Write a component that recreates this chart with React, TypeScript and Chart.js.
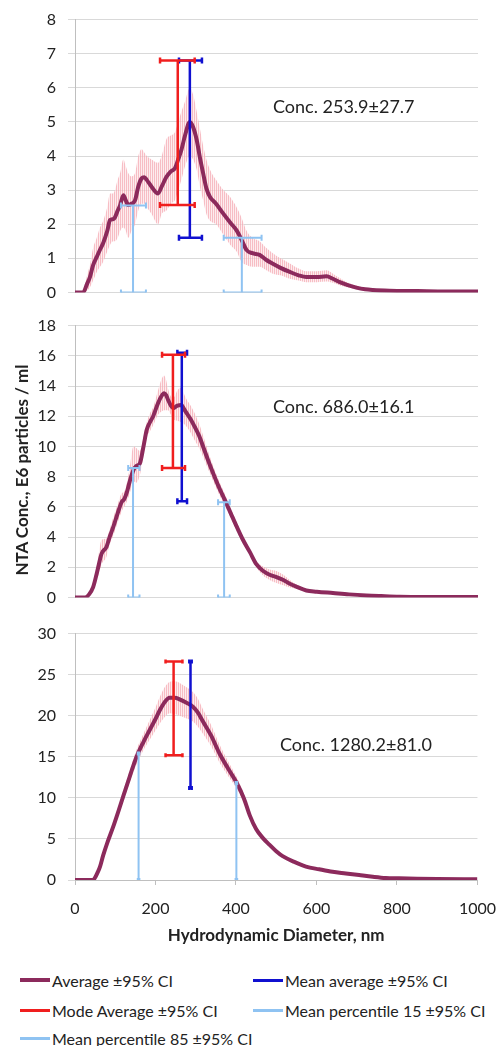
import React, { useEffect, useRef } from "react";
import { Chart, registerables } from "chart.js";
Chart.register(...registerables);

const FONT = "Lato, 'Open Sans', sans-serif";
const MAROON = "#8c2a5c";
const RED = "#f01e1e";
const BLUE = "#1010d0";
const LIGHTBLUE = "#8fc3f2";

// ---------- Panel 1 ----------
const diam1 = [0, 20, 30, 37, 45, 54, 62, 70, 80, 87, 95, 99, 106, 112, 120, 126, 132, 140, 149, 157, 165, 172, 178, 190, 206, 215, 227, 238, 248, 256, 264, 273, 285, 293, 302, 310, 318, 326, 335, 350, 368, 385, 401, 413, 426, 440, 458, 475, 491, 510, 533, 555, 574, 600, 624, 640, 657, 675, 698, 720, 739, 780, 850, 920, 1000];
const avg1 = [0, 0, 0.25, 0.45, 0.8, 1.04, 1.25, 1.45, 1.8, 2.12, 2.15, 2.2, 2.4, 2.56, 2.85, 2.7, 2.56, 2.6, 2.7, 3.1, 3.34, 3.38, 3.3, 3.1, 2.9, 3.1, 3.39, 3.55, 3.64, 3.9, 4.18, 4.6, 5.0, 4.85, 4.47, 3.95, 3.49, 3.05, 2.8, 2.6, 2.31, 2.05, 1.82, 1.55, 1.24, 1.15, 1.1, 0.95, 0.84, 0.72, 0.6, 0.5, 0.45, 0.45, 0.47, 0.4, 0.3, 0.22, 0.14, 0.09, 0.07, 0.05, 0.04, 0.03, 0.03];
const ciHigh1 = [0, 0.02, 0.5, 0.8, 1.3, 1.6, 1.9, 2.1, 2.5, 2.9, 2.9, 3.0, 3.3, 3.5, 3.9, 3.7, 3.5, 3.4, 3.5, 4.0, 4.2, 4.1, 4.0, 3.9, 3.8, 4.0, 4.5, 4.6, 4.7, 5.0, 5.3, 5.6, 6.0, 5.8, 5.3, 4.8, 4.3, 3.9, 3.6, 3.3, 3.0, 2.8, 2.5, 2.2, 1.8, 1.6, 1.5, 1.3, 1.15, 1.0, 0.85, 0.7, 0.62, 0.62, 0.65, 0.55, 0.42, 0.3, 0.2, 0.13, 0.1, 0.07, 0.05, 0.04, 0.04];
const ciLow1 = [0, 0, 0.05, 0.15, 0.35, 0.6, 0.75, 0.9, 1.2, 1.4, 1.5, 1.5, 1.6, 1.8, 1.9, 1.8, 1.6, 1.8, 2.0, 2.4, 2.6, 2.6, 2.5, 2.3, 2.0, 2.3, 2.4, 2.6, 2.7, 3.0, 3.3, 3.7, 4.0, 3.9, 3.6, 3.1, 2.7, 2.3, 2.1, 2.0, 1.7, 1.4, 1.2, 0.9, 0.8, 0.75, 0.75, 0.65, 0.55, 0.5, 0.4, 0.35, 0.3, 0.3, 0.32, 0.28, 0.2, 0.15, 0.09, 0.06, 0.05, 0.03, 0.03, 0.02, 0.02];

// ---------- Panel 2 ----------
const diam2 = [0, 25, 35, 45, 55, 66, 78, 86, 95, 105, 116, 122, 128, 136, 145, 152, 161, 170, 178, 186, 194, 206, 214, 221, 226, 231, 238, 244, 254, 264, 270, 277, 287, 297, 308, 318, 330, 343, 357, 372, 386, 401, 417, 434, 450, 467, 483, 500, 517, 533, 550, 574, 600, 640, 680, 723, 760, 805, 900, 1000];
const avg2 = [0, 0, 0.2, 0.68, 1.7, 2.9, 3.34, 4.0, 4.67, 5.5, 6.33, 6.5, 6.9, 7.7, 8.43, 8.7, 8.88, 10.0, 11.1, 11.6, 12.0, 12.86, 13.3, 13.52, 13.4, 13.08, 12.7, 12.53, 12.7, 12.75, 12.5, 12.2, 11.8, 11.3, 10.7, 9.98, 9.1, 8.2, 7.3, 6.44, 5.6, 4.7, 3.8, 3.0, 2.2, 1.75, 1.5, 1.35, 1.15, 0.9, 0.7, 0.46, 0.38, 0.29, 0.2, 0.13, 0.09, 0.05, 0.03, 0.02];
const ciHigh2 = [0, 0, 0.4, 1.0, 2.2, 3.8, 3.9, 4.5, 5.3, 6.1, 6.9, 7.0, 7.5, 8.6, 10.0, 9.9, 9.7, 10.6, 11.6, 12.2, 12.6, 13.7, 14.4, 14.7, 14.4, 13.8, 13.3, 13.2, 13.7, 13.9, 13.5, 13.1, 12.7, 12.2, 11.5, 10.7, 9.7, 8.7, 7.75, 6.85, 5.9, 5.0, 4.05, 3.2, 2.4, 2.05, 1.85, 1.75, 1.5, 1.15, 0.85, 0.56, 0.46, 0.35, 0.25, 0.16, 0.11, 0.07, 0.04, 0.03];
const ciLow2 = [0, 0, 0.1, 0.4, 1.2, 2.2, 2.7, 3.5, 4.1, 4.9, 5.7, 6.0, 6.3, 6.9, 7.7, 7.6, 8.1, 9.4, 10.6, 11.0, 11.4, 12.1, 12.3, 12.4, 12.4, 12.4, 12.1, 11.8, 11.7, 11.6, 11.5, 11.3, 10.9, 10.4, 9.9, 9.3, 8.5, 7.7, 6.85, 6.05, 5.3, 4.4, 3.55, 2.8, 2.0, 1.45, 1.15, 0.95, 0.8, 0.65, 0.55, 0.36, 0.3, 0.23, 0.15, 0.1, 0.07, 0.03, 0.02, 0.01];

// ---------- Panel 3 ----------
const diam3 = [0, 45, 50, 56, 62, 70, 80, 95, 108, 120, 136, 153, 170, 186, 200, 211, 222, 235, 248, 260, 276, 293, 305, 318, 338, 359, 380, 401, 420, 434, 450, 467, 483, 500, 516, 545, 574, 607, 640, 673, 706, 740, 772, 805, 850, 900, 1000];
const avg3 = [0, 0, 0.3, 0.9, 1.6, 3.0, 4.5, 6.5, 8.4, 10.2, 12.6, 15.0, 16.8, 18.3, 19.6, 20.7, 21.6, 22.2, 22.2, 22.0, 21.6, 21.1, 20.4, 19.3, 17.6, 15.4, 13.6, 11.9, 9.9, 7.9, 6.2, 5.1, 4.3, 3.5, 2.9, 2.2, 1.63, 1.3, 1.0, 0.8, 0.6, 0.4, 0.25, 0.2, 0.15, 0.12, 0.1];
const ciHigh3 = [0, 0, 0.4, 1.1, 1.8, 3.2, 4.7, 6.9, 8.9, 10.8, 13.3, 15.9, 17.8, 19.5, 21.0, 22.3, 23.4, 24.1, 24.2, 24.0, 23.5, 22.9, 22.1, 20.8, 18.9, 16.5, 14.5, 12.6, 10.4, 8.2, 6.35, 5.25, 4.45, 3.6, 3.0, 2.3, 1.7, 1.36, 1.05, 0.84, 0.63, 0.42, 0.27, 0.22, 0.16, 0.13, 0.11];
const ciLow3 = [0, 0, 0.2, 0.7, 1.4, 2.8, 4.3, 6.1, 7.9, 9.6, 11.9, 14.1, 15.8, 17.1, 18.2, 19.1, 19.8, 20.3, 20.2, 20.0, 19.7, 19.3, 18.7, 17.8, 16.3, 14.3, 12.7, 11.2, 9.4, 7.6, 6.05, 4.95, 4.15, 3.4, 2.8, 2.1, 1.56, 1.24, 0.95, 0.76, 0.57, 0.38, 0.23, 0.18, 0.14, 0.11, 0.09];

// ---------- error bars, one entry per panel ----------
const modeX = [255, 243, 245];
const modeXLo = [211, 216, 225];
const modeXHi = [297, 273, 267];
const modeYLo = [2.56, 8.57, 15.2];
const modeYHi = [6.8, 16.07, 26.6];

const meanX = [285, 265, 287];
const meanXLo = [258, 254, 284];
const meanXHi = [315, 278, 290];
const meanYLo = [1.6, 6.37, 11.2];
const meanYHi = [6.8, 16.2, 26.6];

const p15X = [144, 144, 158];
const p15XLo = [114, 132, 156];
const p15XHi = [176, 160, 160];
const p15YHi = [2.55, 8.57, 15.4];

const p85X = [414, 370, 401];
const p85XLo = [369, 355, 399];
const p85XHi = [463, 384, 403];
const p85YHi = [1.6, 6.3, 11.8];

const yMaxes = [8, 18, 30];
const ySteps = [1, 2, 5];
const concLabels = ["Conc. 253.9±27.7", "Conc. 686.0±16.1", "Conc. 1280.2±81.0"];

const xTitle = "Hydrodynamic Diameter, nm";
const yTitle = "NTA Conc., E6 particles / ml";
const legendLabels = [
  "Average ±95% CI",
  "Mean average ±95% CI",
  "Mode Average ±95% CI",
  "Mean percentile 15 ±95% CI",
  "Mean percentile 85 ±95% CI",
];
const legendColors = [MAROON, BLUE, RED, LIGHTBLUE, LIGHTBLUE];
const legendWidths = [4, 3, 3, 3, 3];

const diams = [diam1, diam2, diam3];
const avgs = [avg1, avg2, avg3];
const highs = [ciHigh1, ciHigh2, ciHigh3];
const lows = [ciLow1, ciLow2, ciLow3];

function stripePattern(): CanvasPattern | string {
  const c = document.createElement("canvas");
  c.width = 2;
  c.height = 4;
  const g = c.getContext("2d");
  if (!g) return "rgba(240,150,160,0.5)";
  g.fillStyle = "rgba(252,225,228,0.6)";
  g.fillRect(0, 0, 2, 4);
  g.fillStyle = "rgba(242,150,160,0.55)";
  g.fillRect(0, 0, 1, 4);
  return g.createPattern(c, "repeat") || "rgba(240,150,160,0.5)";
}

function errorBar(color: string, w: number, x: number, xLo: number, xHi: number, yLo: number, yHi: number, capR: number) {
  const base = { type: "line", borderColor: color, borderWidth: w, order: 1, fill: false };
  const cap = { ...base, pointStyle: "line", pointRotation: 90, pointRadius: capR, pointBorderWidth: w, pointBorderColor: color, pointBackgroundColor: color };
  return [
    { ...base, data: [{ x, y: yLo }, { x, y: yHi }], pointRadius: 0 },
    { ...cap, data: [{ x: xLo, y: yHi }, { x: xHi, y: yHi }] },
    { ...cap, data: [{ x: xLo, y: yLo }, { x: xHi, y: yLo }] },
  ];
}

type PanelProps = { idx: number; top: number; height: number; width: number; showX: boolean };

function Panel({ idx, top, height, width, showX }: PanelProps) {
  const ref = useRef<HTMLCanvasElement>(null);
  useEffect(() => {
    if (!ref.current) return;
    const xs = diams[idx];
    const pts = (ys: number[]) => xs.map((x, i) => ({ x, y: ys[i] }));
    const capR = idx === 2 ? 2 : 3;
    const datasets: any[] = [
      { type: "line", data: pts(highs[idx]), borderColor: "transparent", borderWidth: 0, pointRadius: 0, fill: false, order: 5, cubicInterpolationMode: "monotone" },
      { type: "line", data: pts(lows[idx]), borderColor: "transparent", borderWidth: 0, pointRadius: 0, fill: "-1", backgroundColor: stripePattern(), order: 5, cubicInterpolationMode: "monotone" },
      { type: "line", data: pts(avgs[idx]), borderColor: MAROON, borderWidth: 4, pointRadius: 0, fill: false, order: 3, cubicInterpolationMode: "monotone" },
      ...errorBar(RED, 2.5, modeX[idx], modeXLo[idx], modeXHi[idx], modeYLo[idx], modeYHi[idx], capR),
      ...errorBar(BLUE, 2.5, meanX[idx], meanXLo[idx], meanXHi[idx], meanYLo[idx], meanYHi[idx], capR),
      ...errorBar(LIGHTBLUE, 2, p15X[idx], p15XLo[idx], p15XHi[idx], 0, p15YHi[idx], capR),
      ...errorBar(LIGHTBLUE, 2, p85X[idx], p85XLo[idx], p85XHi[idx], 0, p85YHi[idx], capR),
    ];
    const chart = new Chart(ref.current, {
      type: "line",
      data: { datasets },
      options: {
        animation: false,
        responsive: false,
        events: [],
        layout: { padding: { left: 0, right: 21, top: 0, bottom: 0 } },
        plugins: { legend: { display: false }, tooltip: { enabled: false } },
        scales: {
          x: {
            type: "linear",
            display: showX,
            min: 0,
            max: 1000,
            afterFit: (s: any) => { if (showX) s.height = 70; },
            ticks: { stepSize: 200, color: "#222", padding: 14, font: { family: FONT, size: 16 }, maxRotation: 0, callback: (v: any) => String(v) },
            grid: { drawOnChartArea: false, tickLength: 5, color: "#bfbfbf" },
            border: { color: "#bfbfbf" },
            title: { display: true, text: xTitle, color: "#222", font: { family: FONT, size: 17, weight: "bold" }, padding: { top: 0, bottom: 4 } },
          },
          y: {
            type: "linear",
            min: 0,
            max: yMaxes[idx],
            afterFit: (s: any) => { s.width = 75; },
            ticks: { stepSize: ySteps[idx], color: "#222", padding: 12, font: { family: FONT, size: 16 } },
            grid: { color: "#d9d9d9", tickLength: 7 },
            border: { color: "#bfbfbf" },
          },
        },
      } as any,
    });
    return () => chart.destroy();
  }, [idx, showX]);
  return (
    <canvas ref={ref} width={width} height={height} style={{ position: "absolute", left: 0, top, width, height, display: "block" }} />
  );
}

const concPos = [
  { left: 273, top: 106 },
  { left: 273, top: 406 },
  { left: 280, top: 744 },
];

export default function App() {
  const legendPos = [
    { x: 20, y: 980 },
    { x: 253, y: 980 },
    { x: 20, y: 1010 },
    { x: 253, y: 1010 },
    { x: 20, y: 1038 },
  ];
  return (
    <div style={{ position: "absolute", left: 0, top: 0, width: 499, height: 1046, background: "#fff", overflow: "hidden", fontFamily: FONT, color: "#222" }}>
      <Panel idx={0} top={-2} height={316} width={499} showX={false} />
      <Panel idx={1} top={304} height={315} width={499} showX={false} />
      <Panel idx={2} top={612} height={338} width={510} showX={true} />
      {concLabels.map((t, i) => (
        <div key={t} style={{ position: "absolute", left: concPos[i].left, top: concPos[i].top - 11, height: 22, lineHeight: "22px", fontSize: 18, whiteSpace: "nowrap" }}>{t}</div>
      ))}
      <div style={{ position: "absolute", left: 22 - 200, top: 470 - 11, width: 400, height: 22, lineHeight: "22px", textAlign: "center", fontSize: 17, fontWeight: "bold", transform: "rotate(-90deg)", whiteSpace: "nowrap" }}>{yTitle}</div>
      {legendLabels.map((t, i) => (
        <div key={t} style={{ position: "absolute", left: legendPos[i].x, top: legendPos[i].y - 11, height: 22, display: "flex", alignItems: "center", whiteSpace: "nowrap", fontSize: 16 }}>
          <span style={{ display: "inline-block", width: 30, height: legendWidths[i], background: legendColors[i], marginRight: 2 }} />
          <span>{t}</span>
        </div>
      ))}
    </div>
  );
}
